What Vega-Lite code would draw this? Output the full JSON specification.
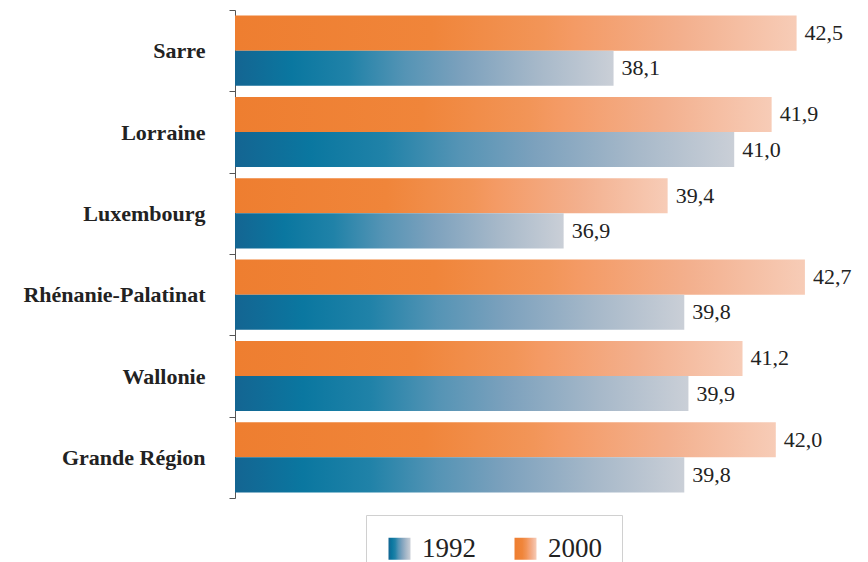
{
  "$schema": "https://vega.github.io/schema/vega-lite/v6.json",
  "width": 624,
  "height": 488,
  "autosize": {"type": "none"},
  "padding": {"left": 235, "top": 10, "right": 9, "bottom": 64},
  "background": "white",
  "config": {
    "view": {"stroke": null},
    "locale": {"number": {"decimal": ",", "thousands": ".", "grouping": [3], "currency": ["", " €"]}}
  },
  "data": {
    "values": [
      {"region": "Sarre", "year": "2000", "value": 42.5},
      {"region": "Sarre", "year": "1992", "value": 38.1},
      {"region": "Lorraine", "year": "2000", "value": 41.9},
      {"region": "Lorraine", "year": "1992", "value": 41.0},
      {"region": "Luxembourg", "year": "2000", "value": 39.4},
      {"region": "Luxembourg", "year": "1992", "value": 36.9},
      {"region": "Rhénanie-Palatinat", "year": "2000", "value": 42.7},
      {"region": "Rhénanie-Palatinat", "year": "1992", "value": 39.8},
      {"region": "Wallonie", "year": "2000", "value": 41.2},
      {"region": "Wallonie", "year": "1992", "value": 39.9},
      {"region": "Grande Région", "year": "2000", "value": 42.0},
      {"region": "Grande Région", "year": "1992", "value": 39.8}
    ]
  },
  "encoding": {
    "y": {
      "field": "region",
      "type": "nominal",
      "sort": null,
      "scale": {"paddingInner": 0, "paddingOuter": 0},
      "axis": {
        "title": null,
        "labelFont": "Liberation Serif",
        "labelFontWeight": "bold",
        "labelFontSize": 22,
        "labelColor": "#222222",
        "labelPadding": 24,
        "labelLimit": 300,
        "tickSize": 6,
        "tickBand": "extent",
        "domainColor": "#555555",
        "tickColor": "#555555"
      }
    },
    "yOffset": {
      "field": "year",
      "type": "nominal",
      "scale": {"domain": ["2000", "1992"], "paddingInner": 0, "paddingOuter": 0.16}
    },
    "x": {
      "field": "value",
      "type": "quantitative",
      "scale": {"domain": [29, 44], "zero": false, "nice": false},
      "axis": null
    }
  },
  "layer": [
    {
      "mark": {"type": "bar", "strokeWidth": 0},
      "encoding": {
        "x2": {"datum": 29},
        "color": {
          "field": "year",
          "type": "nominal",
          "scale": {
            "domain": ["1992", "2000"],
            "range": [
              {"expr": "{gradient: 'linear', x1: 0, y1: 0, x2: 1, y2: 0, stops: [{offset: 0, color: '#146592'}, {offset: 0.15, color: '#0a77a0'}, {offset: 0.3, color: '#2082a8'}, {offset: 0.45, color: '#5594b5'}, {offset: 0.6, color: '#7ca1bd'}, {offset: 0.8, color: '#a6b8c9'}, {offset: 1, color: '#cacfd7'}]}"},
              {"expr": "{gradient: 'linear', x1: 0, y1: 0, x2: 1, y2: 0, stops: [{offset: 0, color: '#ee7e30'}, {offset: 0.35, color: '#f0853a'}, {offset: 0.55, color: '#f29558'}, {offset: 0.6, color: '#f49a64'}, {offset: 0.8, color: '#f3b08e'}, {offset: 1, color: '#f7ccb7'}]}"}
            ]
          },
          "legend": {
            "orient": "none",
            "legendX": 131,
            "legendY": 505,
            "direction": "horizontal",
            "title": null,
            "symbolType": "square",
            "symbolSize": 484,
            "symbolStrokeWidth": 0,
            "symbolOpacity": 1,
            "labelFont": "Liberation Serif",
            "labelFontSize": 27,
            "labelColor": "#222222",
            "labelOffset": 9,
            "columnPadding": 36,
            "padding": 20,
            "strokeColor": "#d0d0d0"
          }
        }
      }
    },
    {
      "mark": {"type": "text", "align": "left", "baseline": "middle", "dx": 8, "font": "Liberation Serif", "fontSize": 22, "color": "#222222"},
      "encoding": {
        "text": {"field": "value", "type": "quantitative", "format": ".1f"}
      }
    }
  ]
}
